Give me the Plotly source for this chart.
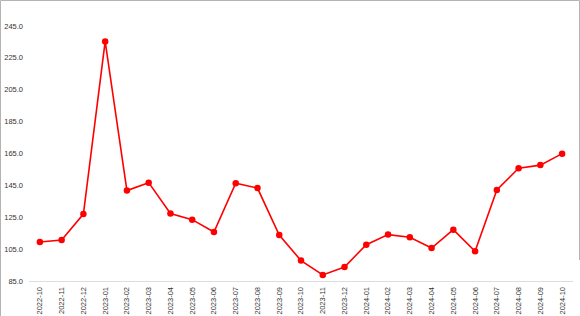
import plotly.graph_objects as go

months = ["2022-10", "2022-11", "2022-12", "2023-01", "2023-02", "2023-03", "2023-04",
          "2023-05", "2023-06", "2023-07", "2023-08", "2023-09", "2023-10", "2023-11",
          "2023-12", "2024-01", "2024-02", "2024-03", "2024-04", "2024-05", "2024-06",
          "2024-07", "2024-08", "2024-09", "2024-10"]
values = [109.5, 110.7, 127.0, 235.3, 141.7, 146.7, 127.3, 123.5, 115.7, 146.3, 143.3,
          113.8, 97.8, 88.8, 93.8, 107.8, 114.1, 112.4, 105.7, 117.2, 103.6, 142.1,
          155.7, 157.7, 164.9]
y_ticks = [85, 105, 125, 145, 165, 185, 205, 225, 245]

W, H = 580, 316
ml, mr, mt, mb = 29, 7, 10, 35
pw, ph = W - ml - mr, H - mt - mb

fig = go.Figure()
fig.add_trace(go.Scatter(
    x=months, y=values, mode="lines+markers",
    line=dict(color="#ff0000", width=1.6),
    marker=dict(color="#ff0000", size=6.5),
    hoverinfo="x+y",
))

def px_x(p):
    return (p - ml) / pw

def px_y(p):
    return (H - mb - p) / ph

border = dict(type="line", xref="paper", yref="paper", line=dict(color="#b4b4b4", width=1))
shapes = [
    dict(border, x0=px_x(0.5), x1=px_x(579.5), y0=px_y(0.5), y1=px_y(0.5)),
    dict(border, x0=px_x(0.5), x1=px_x(0.5), y0=px_y(0.5), y1=px_y(H)),
    dict(border, x0=px_x(579.5), x1=px_x(579.5), y0=px_y(0.5), y1=px_y(260)),
]

fig.update_layout(
    width=W, height=H,
    margin=dict(l=ml, r=mr, t=mt, b=mb, autoexpand=False),
    paper_bgcolor="white", plot_bgcolor="white",
    showlegend=False,
    font=dict(family="Liberation Sans, Arial, sans-serif", size=7.5, color="#333333"),
    shapes=shapes,
    xaxis=dict(
        type="category", range=[-0.5, len(months) - 0.5], automargin=False,
        tickangle=-90, showgrid=False, zeroline=False,
        showline=True, linecolor="#dddddd", linewidth=1,
        ticks="", ticklabelstandoff=2, tickfont=dict(size=7.5, color="#333333"),
    ),
    yaxis=dict(
        range=[85, 255], tickvals=y_ticks, automargin=False,
        ticktext=[f"{v:.1f}" for v in y_ticks],
        showgrid=False, zeroline=False, showline=False, ticks="",
        ticklabelstandoff=5, tickfont=dict(size=7.5, color="#333333"),
    ),
)

fig.write_html("out.html")
